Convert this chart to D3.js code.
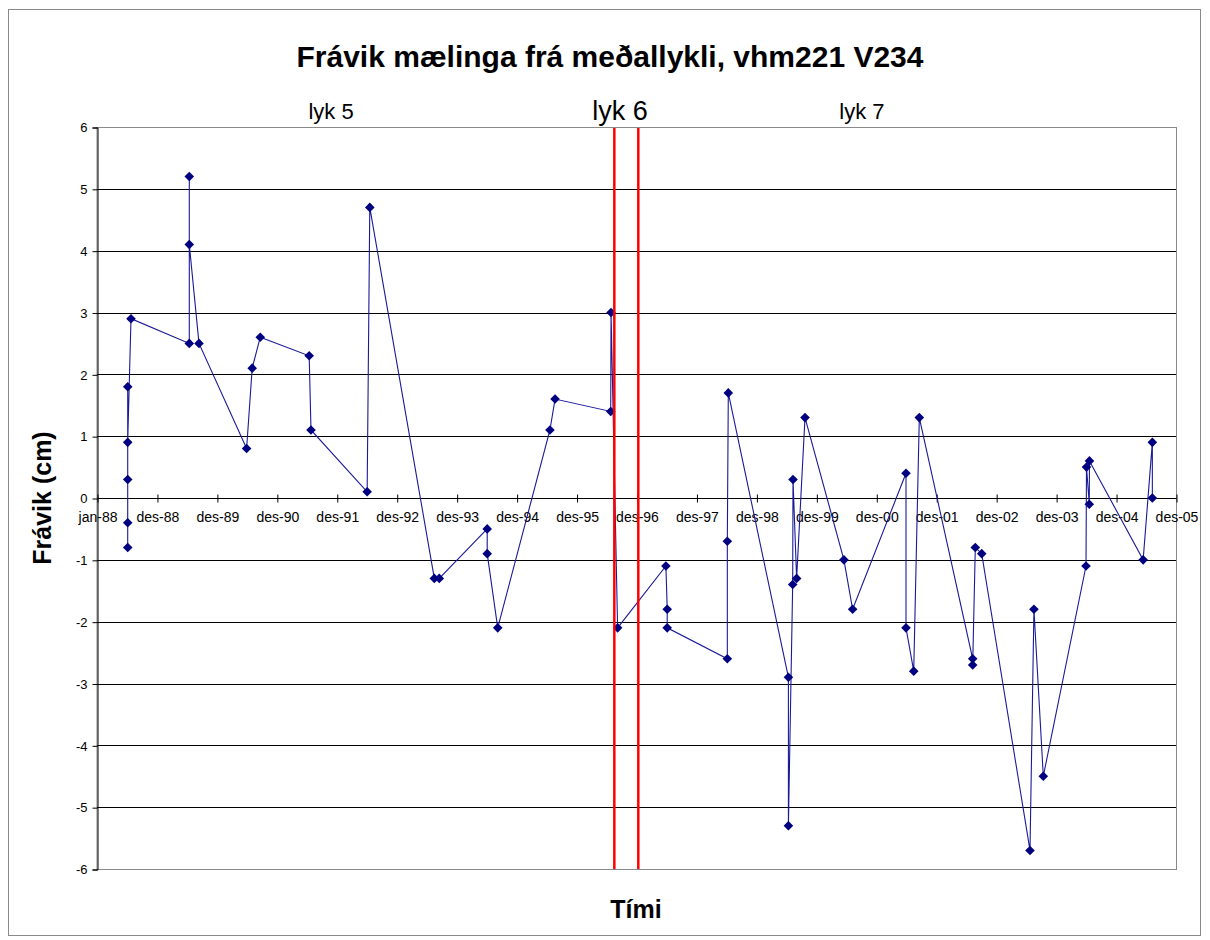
<!DOCTYPE html>
<html>
<head>
<meta charset="utf-8">
<script src="https://cdn.jsdelivr.net/npm/d3@7"></script>
<style>
  html, body { margin: 0; padding: 0; background: #fff; }
  text { font-family: Arial, "Liberation Sans", sans-serif; }
</style>
</head>
<body>
<svg id="chart" width="1210" height="940"></svg>
<script>
// ---- data ----
const dates = [
  "1988-07-06","1988-07-06","1988-07-06","1988-07-06","1988-07-06","1988-07-26",
  "1989-07-16","1989-07-16","1989-07-16","1989-09-13",
  "1990-06-30","1990-08-03","1990-09-21",
  "1991-07-16","1991-07-27",
  "1992-07-03","1992-07-19",
  "1993-08-16","1993-09-15",
  "1994-07-04","1994-07-04","1994-09-06",
  "1995-07-21","1995-08-21",
  "1996-07-25","1996-07-27","1996-09-05",
  "1997-06-26","1997-07-04","1997-07-04",
  "1998-07-05","1998-07-05","1998-07-11",
  "1999-07-12","1999-07-12","1999-08-07","1999-08-09","1999-08-31","1999-10-21",
  "2000-06-14","2000-08-06",
  "2001-06-27","2001-06-27","2001-08-13","2001-09-16",
  "2002-08-07","2002-08-07","2002-08-23","2002-10-01",
  "2003-07-22","2003-08-15","2003-10-11",
  "2004-06-27","2004-06-30","2004-07-17","2004-07-18",
  "2005-06-10","2005-08-05","2005-08-05"
];
const values = [
  -0.8,-0.4,0.3,1.8,0.9,2.9,
  2.5,5.2,4.1,2.5,
  0.8,2.1,2.6,
  2.3,1.1,
  0.1,4.7,
  -1.3,-1.3,
  -0.5,-0.9,-2.1,
  1.1,1.6,
  1.4,3.0,-2.1,
  -1.1,-1.8,-2.1,
  -2.6,-0.7,1.7,
  -2.9,-5.3,-1.4,0.3,-1.3,1.3,
  -1.0,-1.8,
  0.4,-2.1,-2.8,1.3,
  -2.6,-2.7,-0.8,-0.9,
  -5.7,-1.8,-4.5,
  -1.1,0.5,-0.1,0.6,
  -1.0,0.9,0.0
];
const xTickLabels = ["jan-88","des-88","des-89","des-90","des-91","des-92","des-93","des-94","des-95",
  "des-96","des-97","des-98","des-99","des-00","des-01","des-02","des-03","des-04","des-05"];
const yTicks = [-6,-5,-4,-3,-2,-1,0,1,2,3,4,5,6];
const boundaryDates = ["1996-08-16","1997-01-09"];
const periodLabels = ["lyk 5","lyk 6","lyk 7"];
const periodDates = ["1991-11-26","1996-09-20","2000-10-02"];
const title = "Frávik mælinga frá meðallykli, vhm221 V234";
const yTitle = "Frávik (cm)";
const xTitle = "Tími";

// ---- chart ----
const parse = d3.timeParse("%Y-%m-%d");
const start = parse("1988-01-01");
const end = d3.timeDay.offset(start, 18 * 365);
const svg = d3.select("#chart");
const L = 97, R = 1176, T = 127, B = 869;

const x = d3.scaleTime().domain([start, end]).range([L, R]);
const y = d3.scaleLinear().domain([-6, 6]).range([B, T]);

// outer frame
svg.append("rect").attr("x", 8.5).attr("y", 9.5).attr("width", 1192).attr("height", 926)
  .attr("fill", "#fff").attr("stroke", "#8a8a8a").attr("stroke-width", 1);

// title
svg.append("text").attr("x", 610).attr("y", 67).attr("text-anchor", "middle")
  .attr("font-size", 30).attr("font-weight", "bold").attr("fill", "#000").text(title);

// plot border (gray)
svg.append("rect").attr("x", L).attr("y", T + 0.5).attr("width", R - L + 0.5).attr("height", B - T)
  .attr("fill", "none").attr("stroke", "#8a8a8a").attr("stroke-width", 1);

// gridlines
svg.append("g").selectAll("line").data(yTicks.filter(v => v !== 6 && v !== -6)).join("line")
  .attr("x1", L).attr("x2", R).attr("y1", d => Math.round(y(d)) + 0.5).attr("y2", d => Math.round(y(d)) + 0.5)
  .attr("stroke", "#000").attr("stroke-width", 1);

// y axis
const yAxis = d3.axisLeft(y).tickValues(yTicks).tickSize(5).tickPadding(5).tickFormat(d => String(d));
const gy = svg.append("g").attr("transform", `translate(${L + 0.5},0.5)`).call(yAxis);
gy.select(".domain").attr("stroke", "#000");
gy.selectAll(".tick line").attr("stroke", "#000");
gy.selectAll(".tick text").attr("font-size", 13).attr("font-family", "Arial, 'Liberation Sans', sans-serif").attr("fill", "#000");

// x axis at zero
const xTickDates = xTickLabels.map((_, i) => d3.timeDay.offset(start, 365 * i));
const xAxis = d3.axisBottom(x).tickValues(xTickDates).tickSize(4).tickPadding(10)
  .tickFormat((d, i) => xTickLabels[i]);
const gx = svg.append("g").attr("transform", `translate(0.5,${Math.round(y(0)) + 0.5})`).call(xAxis);
gx.select(".domain").attr("stroke", "#000").attr("d", `M${L},0H${R}`);
gx.selectAll(".tick line").attr("stroke", "#000").attr("y1", -4).attr("y2", 4);
gx.selectAll(".tick text").attr("font-size", 14).attr("font-family", "Arial, 'Liberation Sans', sans-serif").attr("fill", "#000");

// series line
const pts = dates.map((d, i) => ({ date: parse(d), value: values[i] }));
const line = d3.line().x(d => x(d.date)).y(d => y(d.value));
svg.append("path").datum(pts).attr("d", line).attr("fill", "none")
  .attr("stroke", "#1a1a99").attr("stroke-width", 1.1);

// markers
svg.append("g").selectAll("path").data(pts).join("path")
  .attr("transform", d => `translate(${x(d.date)},${y(d.value)})`)
  .attr("d", "M0,-4.8L4.8,0L0,4.8L-4.8,0Z").attr("fill", "#000080");

// red boundary lines
svg.append("g").selectAll("line").data(boundaryDates).join("line")
  .attr("x1", d => x(parse(d))).attr("x2", d => x(parse(d)))
  .attr("y1", T + 1).attr("y2", B)
  .attr("stroke", "#ff0000").attr("stroke-width", 2.5);

// period labels
svg.append("g").selectAll("text").data(periodLabels).join("text")
  .attr("x", (d, i) => x(parse(periodDates[i]))).attr("y", (d, i) => i === 1 ? 120 : 119)
  .attr("text-anchor", "middle").attr("font-size", (d, i) => i === 1 ? 27 : 22).attr("fill", "#000")
  .text(d => d);

// axis titles
svg.append("text").attr("transform", `translate(51,498) rotate(-90)`).attr("text-anchor", "middle")
  .attr("font-size", 25).attr("font-weight", "bold").attr("fill", "#000").text(yTitle);
svg.append("text").attr("x", 636).attr("y", 918).attr("text-anchor", "middle")
  .attr("font-size", 25).attr("font-weight", "bold").attr("fill", "#000").text(xTitle);
</script>
</body>
</html>
